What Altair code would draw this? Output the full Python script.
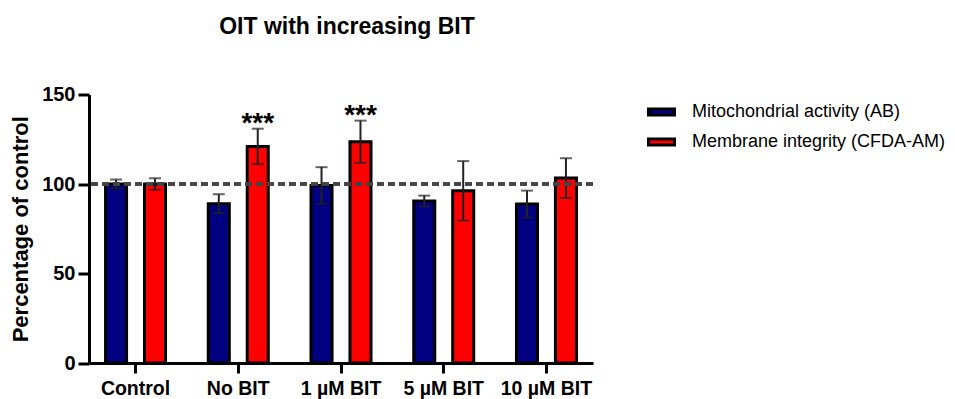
import altair as alt
import pandas as pd

groups = ["Control", "No BIT", "1 µM BIT", "5 µM BIT", "10 µM BIT"]
series = ["Mitochondrial activity (AB)", "Membrane integrity (CFDA-AM)"]
ab_mean = [100, 89, 99.2, 90.5, 88.8]
ab_sd = [2.5, 5.3, 10.2, 3.0, 7.5]
cfda_mean = [100, 121, 123.6, 96.2, 103.3]
cfda_sd = [3.2, 9.9, 11.8, 16.6, 11.1]
cfda_sig = ["", "***", "***", "", ""]
ab_sig = ["", "", "", "", ""]
colors = ["#000080", "#ff0000"]

rows = []
for s, means, sds, sigs in [(series[0], ab_mean, ab_sd, ab_sig), (series[1], cfda_mean, cfda_sd, cfda_sig)]:
    for g, m, sd, sig in zip(groups, means, sds, sigs):
        rows.append({"group": g, "series": s, "mean": m, "lo": m - sd, "hi": m + sd, "sig": sig})
df = pd.DataFrame(rows)

FONT = "Liberation Sans"

x = alt.X("group:N", sort=groups, scale=alt.Scale(paddingInner=0.3, paddingOuter=0.103),
          axis=alt.Axis(title=None, labelAngle=0, labelFont=FONT, labelFontSize=19.5, labelFontWeight="bold",
                        labelColor="black", domainColor="black", domainWidth=3, tickColor="black",
                        tickWidth=3, tickSize=10, labelPadding=6))
xo = alt.XOffset("series:N", sort=series, scale=alt.Scale(paddingInner=0.46, paddingOuter=0.153))
yscale = alt.Scale(domain=[0, 150], nice=False)

base = alt.Chart(df)

bars = base.mark_bar(stroke="black", strokeWidth=3).encode(
    x=x, xOffset=xo,
    y=alt.Y("mean:Q", scale=yscale,
            axis=alt.Axis(title="Percentage of control", values=[0, 50, 100, 150], grid=False,
                          titleFont=FONT, titleFontSize=22, titleFontWeight="bold", titleColor="black",
                          labelFont=FONT, labelFontSize=20, labelFontWeight="bold", labelColor="black",
                          domainColor="black", domainWidth=3, tickColor="black", tickWidth=3,
                          tickSize=11, labelPadding=3, titlePadding=9)),
    color=alt.Color("series:N", sort=series, scale=alt.Scale(domain=series, range=colors),
                    legend=alt.Legend(title=None, orient="none", legendX=561, legendY=6,
                                      labelFont=FONT, labelFontSize=18, labelColor="black", labelLimit=0,
                                      symbolType="M-1.3,-0.3 L1.3,-0.3 L1.3,0.3 L-1.3,0.3 Z",
                                      symbolSize=400, symbolStrokeColor="black", symbolStrokeWidth=3,
                                      symbolOpacity=1, labelOffset=19, rowPadding=9)),
)

err = base.mark_rule(color="#222222", strokeWidth=2).encode(
    x=x, xOffset=xo, y=alt.Y("lo:Q", scale=yscale), y2="hi:Q")
cap_hi = base.mark_tick(color="#222222", thickness=2, size=12).encode(
    x=x, xOffset=xo, y=alt.Y("hi:Q", scale=yscale))
cap_lo = base.mark_tick(color="#222222", thickness=2, size=12).encode(
    x=x, xOffset=xo, y=alt.Y("lo:Q", scale=yscale))

stars = base.mark_text(font=FONT, fontSize=28, fontWeight="bold", baseline="alphabetic", dy=3,
                       color="black").encode(
    x=x, xOffset=xo, y=alt.Y("hi:Q", scale=yscale), text="sig:N")

ref = alt.Chart(df).mark_rule(color="#444444", strokeWidth=2.5, strokeDash=[7, 4]).encode(
    y=alt.datum(100))

chart = alt.layer(bars, err, cap_hi, cap_lo, ref, stars).properties(
    width=504, height=268.5,
    title=alt.TitleParams("OIT with increasing BIT", font=FONT, fontSize=23, fontWeight="bold",
                          color="black", anchor="middle", offset=46, dx=6),
    autosize=alt.AutoSizeParams(type="none"),
    padding={"left": 81, "top": 86.5, "right": 354, "bottom": 36},
).configure_view(stroke=None)

chart.save("out.html", embed_options={"renderer": "svg", "actions": False})
